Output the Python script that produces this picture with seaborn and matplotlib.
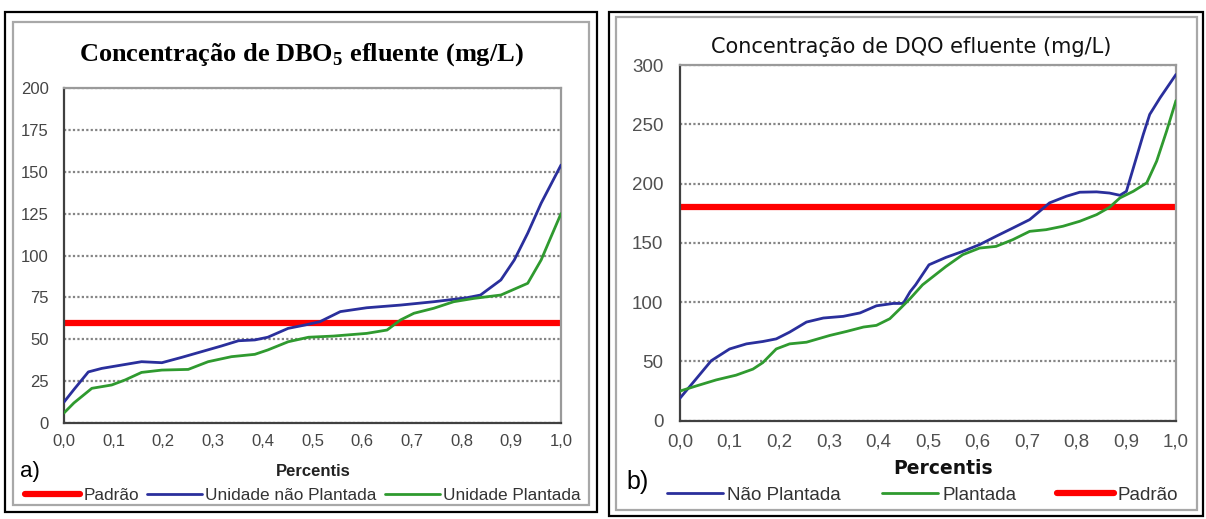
import matplotlib
matplotlib.use("Agg")
import matplotlib.pyplot as plt
import seaborn as sns
import numpy as np
from matplotlib.patches import Rectangle
from matplotlib.ticker import MultipleLocator, FuncFormatter

# ---------------- data ----------------
# Panel a) DBO5
dbo_np_x = [0.0, 0.02, 0.049, 0.076, 0.116, 0.156, 0.197, 0.237, 0.277, 0.317, 0.351, 0.384,
            0.41, 0.451, 0.485, 0.515, 0.556, 0.609, 0.677, 0.744, 0.811, 0.838, 0.879, 0.906,
            0.933, 0.96, 1.0]
dbo_np_y = [12.5, 20, 30.5, 32.6, 34.6, 36.6, 36, 39.2, 42.6, 46, 49.1, 49.6,
            51.2, 56.5, 58.5, 60.5, 66.5, 68.8, 70.4, 72.4, 74.8, 76.4, 85.4, 97.3,
            113.3, 131.2, 154]
dbo_p_x = [0.0, 0.02, 0.056, 0.096, 0.123, 0.156, 0.197, 0.25, 0.29, 0.337, 0.384, 0.41,
           0.451, 0.492, 0.542, 0.609, 0.65, 0.677, 0.704, 0.744, 0.784, 0.825, 0.879,
           0.933, 0.96, 0.98, 1.0]
dbo_p_y = [6, 12, 20.7, 22.7, 25.7, 30.2, 31.6, 32, 36.6, 39.6, 41, 43.6,
           48.5, 51.2, 51.9, 53.5, 55.5, 61.5, 65.5, 68.5, 72.4, 74.4, 76.4,
           83.4, 97.3, 111.2, 125]
dbo_padrao = 60

# Panel b) DQO
dqo_np_x = [0.0, 0.032, 0.063, 0.1, 0.134, 0.167, 0.194, 0.221, 0.255, 0.289, 0.329, 0.363,
            0.396, 0.43, 0.45, 0.464, 0.475, 0.502, 0.536, 0.57, 0.604, 0.637, 0.671, 0.705,
            0.725, 0.745, 0.779, 0.806, 0.84, 0.866, 0.887, 0.9, 0.914, 0.934, 0.947, 0.968, 1.0]
dqo_np_y = [19, 35, 50.6, 60.5, 64.8, 66.8, 69, 74.7, 83.2, 86.6, 88, 90.9,
            96.9, 98.9, 98.9, 108.8, 114.6, 131.5, 137.7, 142.8, 148.5, 155.5, 162.5, 169.6,
            176.6, 183.7, 189.3, 192.7, 193, 192, 190.1, 193.5, 213.2, 241.4, 258.3, 272.4, 292]
dqo_p_x = [0.0, 0.032, 0.073, 0.113, 0.147, 0.167, 0.194, 0.221, 0.255, 0.302, 0.336, 0.37,
           0.396, 0.423, 0.444, 0.464, 0.489, 0.536, 0.57, 0.604, 0.637, 0.671, 0.705, 0.738,
           0.772, 0.806, 0.84, 0.866, 0.887, 0.914, 0.941, 0.961, 0.981, 1.0]
dqo_p_y = [25, 29.2, 34.4, 38.4, 43.5, 49, 60.5, 64.8, 66.2, 71.9, 75.3, 79,
           80.4, 86, 94.6, 103, 114.6, 130, 140, 145.6, 147, 152.7, 159.7, 161.1,
           164, 168.2, 173.8, 180, 187.9, 193.5, 200.6, 218.9, 244.2, 270]
dqo_padrao = 180

x_ticks = [0.0, 0.1, 0.2, 0.3, 0.4, 0.5, 0.6, 0.7, 0.8, 0.9, 1.0]

# ---------------- style ----------------
sns.set_style("white")
plt.rcParams['font.family'] = ['Liberation Sans', 'DejaVu Sans']
plt.rcParams['mathtext.fontset'] = 'custom'
plt.rcParams['mathtext.rm'] = 'Liberation Serif:bold'
plt.rcParams['mathtext.bf'] = 'Liberation Serif:bold'

BLUE = "#2a2f9c"
GREEN = "#2f9a2f"
RED = "#ff0000"

W, H = 1206, 519
fig = plt.figure(figsize=(W / 100, H / 100), dpi=100)
fig.patch.set_facecolor("white")


def fx(px):
    return px / W


def fy(py):
    return 1 - py / H


# panel boxes
fig.patches.append(Rectangle((fx(5), fy(512)), fx(597) - fx(5), fy(12) - fy(512),
                             transform=fig.transFigure, fill=False, edgecolor="black", linewidth=1.6))
fig.patches.append(Rectangle((fx(13), fy(505)), fx(589) - fx(13), fy(22) - fy(505),
                             transform=fig.transFigure, fill=False, edgecolor="#a8a8a8", linewidth=1.6))
fig.patches.append(Rectangle((fx(609), fy(516)), fx(1203) - fx(609), fy(12) - fy(516),
                             transform=fig.transFigure, fill=False, edgecolor="black", linewidth=1.6))
fig.patches.append(Rectangle((fx(616), fy(510)), fx(1197) - fx(616), fy(17) - fy(510),
                             transform=fig.transFigure, fill=False, edgecolor="#a8a8a8", linewidth=1.6))

comma = FuncFormatter(lambda v, p: f"{v:.1f}".replace(".", ","))


def style_axes(ax, ymax, ystep, tick_size, tick_color, ticks_on):
    ax.set_xlim(0, 1)
    ax.set_ylim(0, ymax)
    ax.set_xticks(x_ticks)
    ax.xaxis.set_major_formatter(comma)
    ax.yaxis.set_major_locator(MultipleLocator(ystep))
    ax.grid(False)
    ax.yaxis.grid(True, linestyle=(0, (1, 1)), linewidth=1.6, color="#858585")
    ax.set_axisbelow(True)
    for s in ["left", "bottom"]:
        ax.spines[s].set_color("#404040")
        ax.spines[s].set_linewidth(1.6)
    for s in ["top", "right"]:
        ax.spines[s].set_color("#9a9a9a")
        ax.spines[s].set_linewidth(1.6)
    L = 4 if ticks_on else 0
    ax.tick_params(axis="both", which="both", direction="out", length=L, width=1.2,
                   color="#404040", labelsize=tick_size, labelcolor=tick_color)
    ax.set_xlabel("")
    ax.set_ylabel("")


# ---------------- panel a ----------------
axa = fig.add_axes([fx(64), fy(423), fx(561) - fx(64), fy(88) - fy(423)])
axa.axhline(dbo_padrao, color=RED, linewidth=4.5, zorder=2, label="Padrão")
sns.lineplot(x=dbo_np_x, y=dbo_np_y, ax=axa, color=BLUE, linewidth=2.0, label="Unidade não Plantada", zorder=3)
sns.lineplot(x=dbo_p_x, y=dbo_p_y, ax=axa, color=GREEN, linewidth=2.0, label="Unidade Plantada", zorder=3)
style_axes(axa, 200, 25, 12, "#454545", False)
axa.tick_params(axis="y", pad=11)
axa.tick_params(axis="x", pad=8)
h, l = axa.get_legend_handles_labels()
axa.get_legend().remove()
leg = fig.legend(h, l, loc="center left", bbox_to_anchor=(fx(25), fy(495)), ncol=3,
                 frameon=False, fontsize=12.4, handlelength=3.2, handletextpad=0.2,
                 columnspacing=0.45, borderpad=0, borderaxespad=0)
for t in leg.get_texts():
    t.set_color("#333333")

fig.text(fx(301), fy(55), "Concentração de DBO$_{\\mathbf{5}}$ efluente (mg/L)",
         ha="center", va="center", fontsize=19, fontweight="bold",
         family=["Liberation Serif", "DejaVu Serif"], color="black")
fig.text(fx(313), fy(471), "Percentis", ha="center", va="center", fontsize=12,
         fontweight="bold", color="#222222")
fig.text(fx(20), fy(471), "a)", ha="left", va="center", fontsize=16, color="black")

# ---------------- panel b ----------------
axb = fig.add_axes([fx(680), fy(420.7), fx(1176) - fx(680), fy(65) - fy(420.7)])
sns.lineplot(x=dqo_np_x, y=dqo_np_y, ax=axb, color=BLUE, linewidth=2.0, label="Não Plantada", zorder=3)
sns.lineplot(x=dqo_p_x, y=dqo_p_y, ax=axb, color=GREEN, linewidth=2.0, label="Plantada", zorder=3)
axb.axhline(dqo_padrao, color=RED, linewidth=4.5, zorder=2, label="Padrão")
style_axes(axb, 300, 50, 13.5, "#505050", True)
axb.tick_params(axis="y", pad=8)
axb.tick_params(axis="x", pad=5)
h, l = axb.get_legend_handles_labels()
axb.get_legend().remove()
leg2 = fig.legend(h, l, loc="center left", bbox_to_anchor=(fx(667), fy(495)), ncol=3,
                  frameon=False, fontsize=13.5, handlelength=3.0, handletextpad=0.2,
                  columnspacing=2.2, borderpad=0, borderaxespad=0)
for t in leg2.get_texts():
    t.set_color("#333333")

fig.text(fx(911), fy(47), "Concentração de DQO efluente (mg/L)", ha="center", va="center",
         fontsize=15, family=["DejaVu Sans"], color="#111111")
fig.text(fx(943), fy(469), "Percentis", ha="center", va="center", fontsize=13.5,
         fontweight="bold", family=["DejaVu Sans"], color="#111111")
fig.text(fx(626), fy(482), "b)", ha="left", va="center", fontsize=18, color="black")

fig.savefig("out.png", dpi=100, facecolor="white")
